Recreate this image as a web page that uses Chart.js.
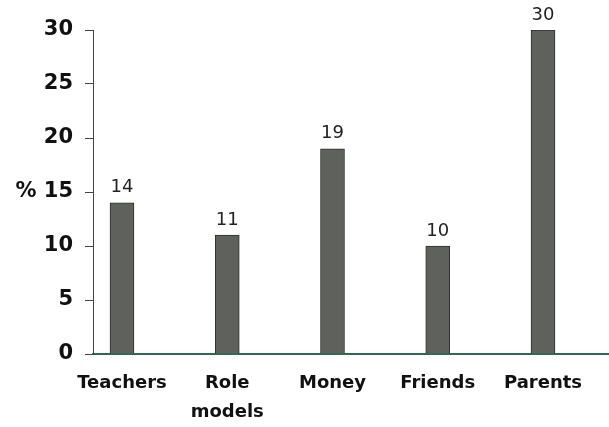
<!DOCTYPE html>
<html>
<head>
<meta charset="utf-8">
<script src="https://cdn.jsdelivr.net/npm/chart.js@4"></script>
<style>
  html, body { margin: 0; padding: 0; background: #fff; }
  #wrap { width: 609px; height: 427px; position: relative; }
</style>
</head>
<body>
<div id="wrap"><canvas id="c" width="609" height="427"></canvas></div>
<script>
const categories = ["Teachers", ["Role", "models"], "Money", "Friends", "Parents"];
const values = [14, 11, 19, 10, 30];
const yTicks = [0, 5, 10, 15, 20, 25, 30];

const valueLabels = {
  id: 'valueLabels',
  afterDatasetsDraw(chart) {
    const ctx = chart.ctx;
    const meta = chart.getDatasetMeta(0);
    ctx.save();
    ctx.font = '18px "DejaVu Sans", sans-serif';
    ctx.fillStyle = '#222';
    ctx.textAlign = 'center';
    ctx.textBaseline = 'bottom';
    meta.data.forEach((bar, i) => {
      ctx.fillText(String(values[i]), bar.x, bar.y - 6);
    });
    ctx.restore();
  }
};

new Chart(document.getElementById('c'), {
  type: 'bar',
  data: {
    datasets: [{
      data: categories.map((c, i) => ({ x: i, y: values[i] })),
      backgroundColor: '#5f625c',
      borderColor: '#2c2f2b',
      borderWidth: 1,
      barThickness: 24
    }]
  },
  options: {
    responsive: false,
    animation: false,
    layout: { padding: { top: 30, right: 0, left: 0, bottom: 0 } },
    plugins: { legend: { display: false }, tooltip: { enabled: false } },
    scales: {
      x: {
        type: 'linear',
        offset: false,
        min: -0.2755,
        max: 4.627,
        afterBuildTicks(scale) { scale.ticks = categories.map((c, i) => ({ value: i })); },
        afterFit(scale) { scale.height = 73; },
        grid: { display: false, drawTicks: false, offset: false },
        border: { display: true, color: '#2e6a52', width: 2 },
        ticks: {
          autoSkip: false,
          maxRotation: 0,
          padding: 15,
          color: '#111',
          font: { family: '"DejaVu Sans", sans-serif', size: 18, weight: 'bold', lineHeight: 1.6 },
          callback: (v) => categories[v]
        }
      },
      y: {
        min: 0,
        max: 30,
        afterBuildTicks(scale) { scale.ticks = yTicks.map(v => ({ value: v })); },
        afterFit(scale) { scale.width = 93; },
        grid: { drawOnChartArea: false, drawTicks: true, tickLength: 8, color: '#444' },
        border: { display: true, color: '#444', width: 1 },
        ticks: {
          padding: 12,
          color: '#111',
          font: { family: '"DejaVu Sans", sans-serif', size: 21, weight: 'bold' },
          callback: (v) => v === 15 ? '% 15' : String(v)
        }
      }
    }
  },
  plugins: [valueLabels]
});
</script>
</body>
</html>
